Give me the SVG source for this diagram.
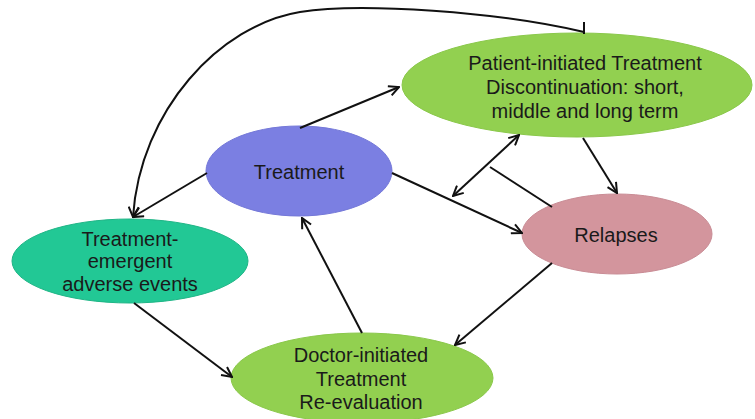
<svg xmlns="http://www.w3.org/2000/svg" width="755" height="419" viewBox="0 0 755 419">
<style>
.t{font-family:"Liberation Sans",Arial,sans-serif;font-size:20px;fill:#1a1a1a;text-anchor:middle}
.c{fill:none;stroke:#111;stroke-width:2}
</style>
<defs>
<marker id="ah" viewBox="0 0 12 12" refX="11" refY="6" markerWidth="12" markerHeight="12" markerUnits="userSpaceOnUse" orient="auto-start-reverse">
<path d="M1,1 L11,6 L1,11" fill="none" stroke="#111" stroke-width="2"/>
</marker>
</defs>
<rect width="755" height="419" fill="#fff"/>
<g id="patient">
<ellipse cx="577" cy="85" rx="175" ry="52" fill="#92d050" stroke="#8ac84a"/>
<text class="t" x="585" y="70">Patient-initiated Treatment</text>
<text class="t" x="585" y="94">Discontinuation: short,</text>
<text class="t" x="585" y="118">middle and long term</text>
</g>
<g id="treatment">
<ellipse cx="299" cy="171" rx="93" ry="45" fill="#7b7fe2" stroke="#7478d8"/>
<text class="t" x="299" y="179">Treatment</text>
</g>
<g id="relapses">
<ellipse cx="617" cy="234" rx="95" ry="40" fill="#d3959d" stroke="#c98c95"/>
<text class="t" x="616" y="242">Relapses</text>
</g>
<g id="adverse">
<ellipse cx="130" cy="261" rx="118" ry="42" fill="#22c895" stroke="#1fb586"/>
<text class="t" x="130" y="246">Treatment-</text>
<text class="t" x="130" y="268">emergent</text>
<text class="t" x="130" y="291">adverse events</text>
</g>
<g id="doctor">
<ellipse cx="362" cy="378" rx="131" ry="45" fill="#92d050" stroke="#8ac84a"/>
<text class="t" x="361" y="362">Doctor-initiated</text>
<text class="t" x="361" y="386">Treatment</text>
<text class="t" x="361" y="409">Re-evaluation</text>
</g>
<g id="connectors">
<line class="c" x1="300" y1="128" x2="399" y2="87" marker-end="url(#ah)"/>
<line class="c" x1="392" y1="173" x2="522" y2="233" marker-end="url(#ah)"/>
<line class="c" x1="453" y1="196" x2="519" y2="135" marker-start="url(#ah)" marker-end="url(#ah)"/>
<line class="c" x1="490" y1="167" x2="552" y2="207"/>
<line class="c" x1="583" y1="138" x2="617" y2="193" marker-end="url(#ah)"/>
<line class="c" x1="552" y1="263" x2="455" y2="345" marker-end="url(#ah)"/>
<line class="c" x1="362" y1="333" x2="302" y2="218" marker-end="url(#ah)"/>
<line class="c" x1="207" y1="173" x2="133" y2="217" marker-end="url(#ah)"/>
<line class="c" x1="134" y1="303" x2="232" y2="377" marker-end="url(#ah)"/>
<path class="c" d="M584,32 C500,12 360,2 300,12 C220,25 140,110 133,217" marker-end="url(#ah)"/>
<line class="c" x1="584" y1="22" x2="584" y2="34"/>
</g>
</svg>
